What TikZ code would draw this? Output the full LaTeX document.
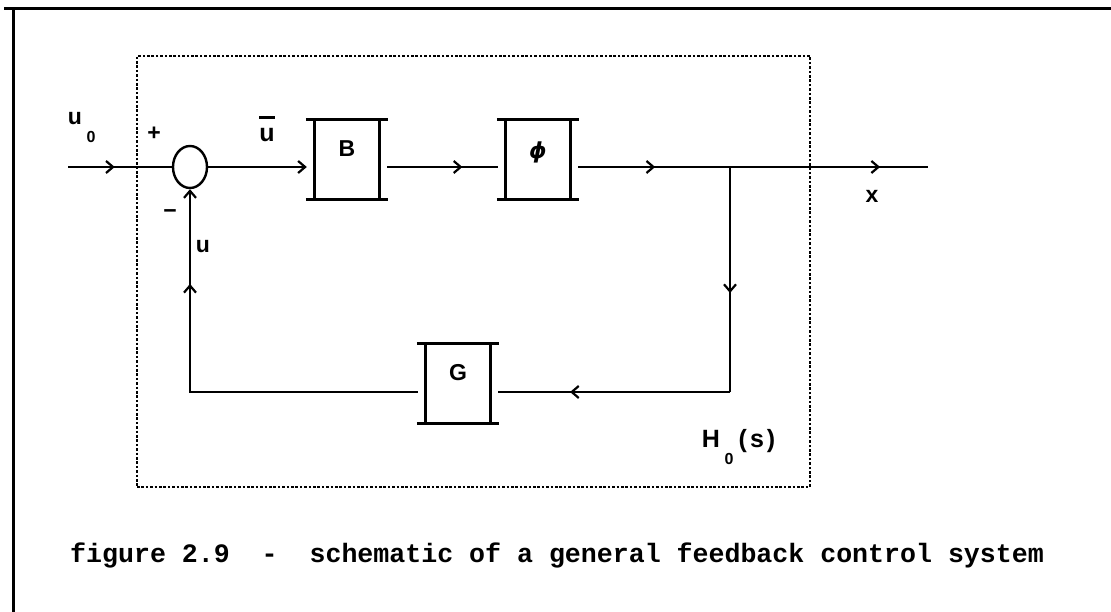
\documentclass[tikz,border=0pt]{standalone}
\usepackage{fontspec}
\setmainfont{Liberation Sans}
\newfontfamily\capfont{Liberation Mono}
\newfontfamily\phifont{DejaVu Sans}
\usetikzlibrary{arrows.meta,decorations.markings,calc,shapes.geometric}
\tikzset{
  >={Straight Barb[length=7pt,width=12pt,line width=2.2pt]},
  conn/.style={line width=2.5pt},
  midarrow/.style={postaction={decorate,decoration={markings,mark=at position #1 with {\arrow{>}}}}},
  ibox/.style={minimum width=80pt, minimum height=79pt, inner sep=0pt},
  boxline/.style={line width=2.8pt},
  dotbox/.style={draw, line width=2.6pt, dash pattern=on 2.6pt off 1.8pt, inner sep=0pt},
  lbl/.style={font=\fontsize{23}{26}\selectfont\bfseries, inner sep=0pt},
  sub/.style={font=\fontsize{16}{18}\selectfont\bfseries, inner sep=0pt},
  frame/.style={line width=3pt}
}
\newcommand\ibeam[1]{\draw[boxline] ([xshift=-1pt]#1.north west) -- ([xshift=1pt]#1.north east)
  ([xshift=-1pt]#1.south west) -- ([xshift=1pt]#1.south east)
  ([xshift=8pt]#1.north west) -- ([xshift=8pt]#1.south west)
  ([xshift=-8pt]#1.north east) -- ([xshift=-8pt]#1.south east);}
\begin{document}
\begin{tikzpicture}[x=1pt,y=-1pt]
\useasboundingbox (0,0) rectangle (1111,612);
% outer frame
\draw[frame] (4,9) -- (1111,9);
\draw[frame] (13,9) -- (13,612);
% dotted system box
\node[dotbox, minimum width=673pt, minimum height=431pt] (H) at (473.5,271.5) {};
% summing junction
\node[draw, line width=2.4pt, ellipse, minimum width=34pt, minimum height=42pt, inner sep=0pt] (sum) at (190,167) {};
% blocks
\node[ibox] (B) at (347,159.5) {};
\node[ibox] (P) at (538,159.5) {};
\node[ibox] (G) at (458,383.5) {};
\ibeam{B}
\ibeam{P}
\ibeam{G}
% coordinates
\coordinate (in) at (68,167);
\coordinate (out) at (928,167);
\coordinate (tap) at (730,167);
\coordinate (tapd) at (730,392);
% connectors
\draw[conn, midarrow=0.45] (in) -- (sum.west);
\draw[conn, ->] (sum.east) -- (B.west |- sum.east);
\draw[conn, midarrow=0.68] (B.east |- sum.east) -- (P.west |- sum.east);
\draw[conn, midarrow=0.22, midarrow=0.863] (P.east |- sum.east) -- (out);
\draw[conn, midarrow=0.56] (tap) -- (tapd);
\draw[conn, midarrow=0.69] (tapd) -- (G.east |- tapd);
\draw[conn, midarrow=0.78, ->] (G.west |- tapd) -- (sum.south |- tapd) -- (sum.south);
% labels
\node[lbl, anchor=base] (u0) at (75,125) {u};
\node[sub, anchor=base] (u0s) at (91,143) {0};
\node[lbl] (plus) at (154,134) {+};
\node[lbl, anchor=base, font=\fontsize{25}{28}\selectfont\bfseries] (ubar) at (267,142) {u};
\draw[line width=2.6pt] ([yshift=11pt]ubar.north west) -- ([yshift=11pt]ubar.north east);
\node[lbl] (minus) at (170,214) {−};
\node[lbl, anchor=base] (ufb) at (203,253) {u};
\node[lbl, anchor=base] (xl) at (872,203) {x};
\node[lbl, anchor=base] (Bt) at (347,157) {B};
\node[font=\phifont\bfseries\itshape\fontsize{22}{26}\selectfont, inner sep=0pt] (Pt) at (538,152) {ϕ};
\node[lbl, anchor=base] (Gt) at (458,380) {G};
\node[font=\fontsize{25}{28}\selectfont\bfseries, inner sep=0pt, anchor=base] (Ht) at (711,447) {H};
\node[font=\fontsize{25}{28}\selectfont\bfseries, inner sep=0pt, anchor=base] (st) at (757,447) {(\hspace{3pt}s\hspace{3pt})};
\node[sub] (H0) at (729,459) {0};
% caption
\node[font=\capfont\bfseries\fontsize{26.6}{30}\selectfont, anchor=base west, inner sep=0pt] (cap) at (70,562) {figure 2.9\ \ -\ \ schematic of a general feedback control system};
\end{tikzpicture}
\end{document}
